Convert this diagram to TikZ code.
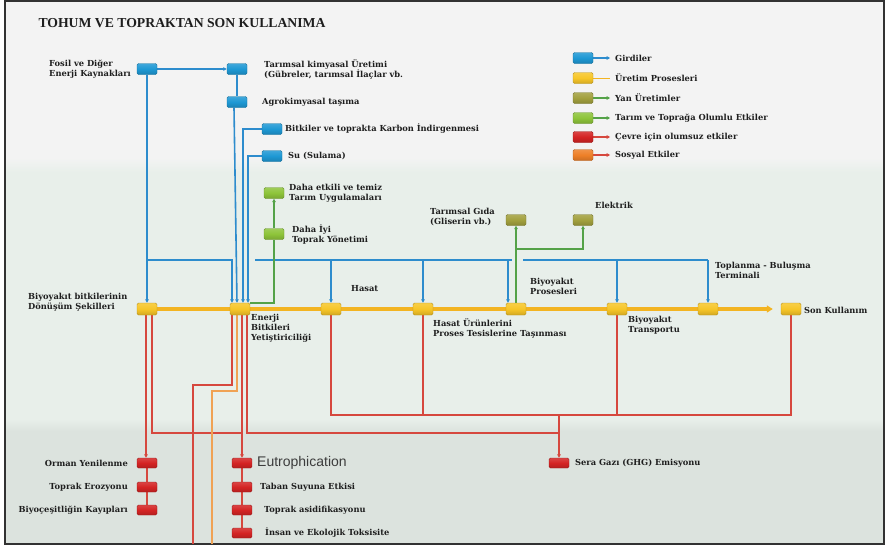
\documentclass[tikz,border=0pt]{standalone}
\usepackage{fontspec}
\setmainfont{Liberation Serif}
\newfontfamily\lblfont{DejaVu Serif}
\newfontfamily\eutrofont{Liberation Sans}
\usetikzlibrary{arrows.meta}

\definecolor{cBlue}{RGB}{30,152,212}
\definecolor{cBlueLine}{RGB}{45,140,205}
\definecolor{cYellow}{RGB}{247,198,40}
\definecolor{cYellowLine}{RGB}{243,180,34}
\definecolor{cOlive}{RGB}{162,160,62}
\definecolor{cLime}{RGB}{142,196,58}
\definecolor{cGreenLine}{RGB}{84,162,72}
\definecolor{cRed}{RGB}{212,36,36}
\definecolor{cRedLine}{RGB}{214,72,62}
\definecolor{cOrange}{RGB}{238,128,40}
\definecolor{cOrangeLine}{RGB}{240,162,84}
\definecolor{cText}{RGB}{30,30,30}
\definecolor{cEutro}{RGB}{60,60,60}
\definecolor{bgTop}{RGB}{243,243,243}
\definecolor{bgMid}{RGB}{232,239,234}
\definecolor{bgBot}{RGB}{220,227,222}
\definecolor{cFrame}{RGB}{50,50,50}

\pgfdeclarelayer{bg}
\pgfdeclarelayer{lines}
\pgfsetlayers{bg,lines,main}

\newcommand\lblsize{\fontsize{8.3}{10}\selectfont}

\tikzset{
  box/.style={rounded corners=1.5pt, minimum width=20pt, minimum height=11pt,
    inner sep=0pt, draw=#1!75!black, line width=0.4pt,
    top color=#1!85!white, bottom color=#1!85!black, middle color=#1},
  smallbox/.style={box=#1, minimum height=10pt},
  lab/.style={font=\lblfont\bfseries\lblsize, text=cText, align=left, inner sep=0pt},
  arr/.style={-{Triangle[length=3.5pt,width=3.5pt]}},
  lineBlue/.style={draw=cBlueLine, line width=1.6pt},
  lineYellow/.style={draw=cYellowLine, line width=3.6pt},
  lineGreen/.style={draw=cGreenLine, line width=1.6pt},
  lineRed/.style={draw=cRedLine, line width=1.8pt},
  lineOrange/.style={draw=cOrangeLine, line width=1.8pt},
}

\begin{document}
\begin{tikzpicture}[x=1pt,y=-1pt]
\useasboundingbox (0,0) rectangle (886,547);

% background bands and frame
\begin{pgfonlayer}{bg}
  \fill[white] (0,0) rectangle (886,547);
  \fill[bgTop] (5,1) rectangle (884,158);
  \shade[top color=bgTop, bottom color=bgMid] (5,158) rectangle (884,172);
  \fill[bgMid] (5,172) rectangle (884,419);
  \shade[top color=bgMid, bottom color=bgBot] (5,419) rectangle (884,431);
  \fill[bgBot] (5,431) rectangle (884,544);
  \draw[cFrame, line width=1.2pt] (5,1) rectangle (884,544);
\end{pgfonlayer}

% title
\node[anchor=west, font=\bfseries\fontsize{13.7}{16}\selectfont, text=cText] (title) at (35,23) {TOHUM VE TOPRAKTAN SON KULLANIMA};

% inputs
\node[box=cBlue] (fosil)  at (147,69)  {};
\node[box=cBlue] (kimya)  at (237,69)  {};
\node[box=cBlue] (tasima) at (237,102) {};
\node[box=cBlue] (karbon) at (272,129) {};
\node[box=cBlue] (su)     at (272,156) {};
\node[lab, anchor=west] (tfosil)  at (49,69)   {Fosil ve Diğer\\Enerji Kaynakları};
\node[lab, anchor=west] (tkimya)  at (264,69)  {Tarımsal kimyasal Üretimi\\(Gübreler, tarımsal İlaçlar vb.};
\node[lab, anchor=west] (ttasima) at (262,102) {Agrokimyasal taşıma};
\node[lab, anchor=west] (tkarbon) at (285,129) {Bitkiler ve toprakta Karbon İndirgenmesi};
\node[lab, anchor=west] (tsu)     at (288,156) {Su (Sulama)};

% production chain
\node[box=cYellow, minimum height=12pt] (y1) at (147,309) {};
\node[box=cYellow, minimum height=12pt] (y2) at (240,309) {};
\node[box=cYellow, minimum height=12pt] (y3) at (331,309) {};
\node[box=cYellow, minimum height=12pt] (y4) at (423,309) {};
\node[box=cYellow, minimum height=12pt] (y5) at (516,309) {};
\node[box=cYellow, minimum height=12pt] (y6) at (617,309) {};
\node[box=cYellow, minimum height=12pt] (y7) at (708,309) {};
\node[box=cYellow, minimum height=12pt] (y8) at (791,309) {};
\node[lab, anchor=west] (ty1) at (28,302)  {Biyoyakıt bitkilerinin\\Dönüşüm Şekilleri};
\node[lab, anchor=west] (ty2) at (251,328) {Enerji\\Bitkileri\\Yetiştiriciliği};
\node[lab, anchor=west] (ty3) at (351,289) {Hasat};
\node[lab, anchor=west] (ty4) at (433,328) {Hasat Ürünlerini\\Proses Tesislerine Taşınması};
\node[lab, anchor=west] (ty5) at (530,286) {Biyoyakıt\\Prosesleri};
\node[lab, anchor=west] (ty6) at (628,325) {Biyoyakıt\\Transportu};
\node[lab, anchor=west] (ty7) at (715,270) {Toplanma - Buluşma\\Terminali};
\node[lab, anchor=west] (ty8) at (804,310) {Son Kullanım};

% positive effects
\node[box=cLime] (g1) at (274,193) {};
\node[box=cLime] (g2) at (274,234) {};
\node[lab, anchor=west] (tg1) at (289,193) {Daha etkili ve temiz\\Tarım Uygulamaları};
\node[lab, anchor=west] (tg2) at (292,234) {Daha İyi\\Toprak Yönetimi};

% by-products
\node[box=cOlive] (o1) at (516,220) {};
\node[box=cOlive] (o2) at (583,220) {};
\node[lab, anchor=west] (to1) at (430,217) {Tarımsal Gıda\\(Gliserin vb.)};
\node[lab, anchor=west] (to2) at (595,205) {Elektrik};

% negative effects
\node[smallbox=cRed] (r1) at (147,463) {};
\node[smallbox=cRed] (r2) at (147,487) {};
\node[smallbox=cRed] (r3) at (147,510) {};
\node[lab, anchor=east] (tr1) at (128,463) {Orman Yenilenme};
\node[lab, anchor=east] (tr2) at (128,487) {Toprak Erozyonu};
\node[lab, anchor=east] (tr3) at (128,510) {Biyoçeşitliğin Kayıpları};
\node[smallbox=cRed] (e1) at (242,463) {};
\node[smallbox=cRed] (e2) at (242,487) {};
\node[smallbox=cRed] (e3) at (242,510) {};
\node[smallbox=cRed] (e4) at (242,533) {};
\node[anchor=west, inner sep=0pt, font=\eutrofont\fontsize{14}{16}\selectfont, text=cEutro] (te1) at (257,463) {Eutrophication};
\node[lab, anchor=west] (te2) at (260,487) {Taban Suyuna Etkisi};
\node[lab, anchor=west] (te3) at (264,510) {Toprak asidifikasyonu};
\node[lab, anchor=west] (te4) at (265,533) {İnsan ve Ekolojik Toksisite};
\node[smallbox=cRed] (ghg) at (559,463) {};
\node[lab, anchor=west] (tghg) at (575,463) {Sera Gazı (GHG) Emisyonu};

% legend
\node[box=cBlue]   (lg1) at (583,58)  {};
\node[box=cYellow] (lg2) at (583,78)  {};
\node[box=cOlive]  (lg3) at (583,98)  {};
\node[box=cLime]   (lg4) at (583,118) {};
\node[box=cRed]    (lg5) at (583,137) {};
\node[box=cOrange] (lg6) at (583,155) {};
\node[lab, anchor=west] (tlg1) at (615,58)  {Girdiler};
\node[lab, anchor=west] (tlg2) at (615,78)  {Üretim Prosesleri};
\node[lab, anchor=west] (tlg3) at (615,98)  {Yan Üretimler};
\node[lab, anchor=west] (tlg4) at (615,118) {Tarım ve Toprağa Olumlu Etkiler};
\node[lab, anchor=west] (tlg5) at (615,137) {Çevre için olumsuz etkiler};
\node[lab, anchor=west] (tlg6) at (615,155) {Sosyal Etkiler};

% junction points and loose ends
\coordinate (jFosil) at (147,260);
\coordinate (busA) at (255,260);
\coordinate (busB) at (512,260);
\coordinate (busC) at (523,260);
\coordinate (busD) at (708,260);
\coordinate (jOlive) at (516,249);
\coordinate (jEutro) at (242,433);
\coordinate (jGhg) at (559,433);
\coordinate (jBus) at (559,415);
\coordinate (endRed) at (193,544);
\coordinate (endOrange) at (212,544);

\begin{pgfonlayer}{lines}
  % inputs
  \draw[lineBlue, arr] (fosil.east) -- (kimya.west);
  \draw[lineBlue, arr] (fosil.south) -- (y1.north);
  \draw[lineBlue, arr] (jFosil) -| ([xshift=-8pt]y2.north);
  \draw[lineBlue] (kimya.south) -- (tasima.north);
  \draw[lineBlue, arr] ([xshift=-3pt]tasima.south) -- ([xshift=-3pt]y2.north);
  \draw[lineBlue, arr] (karbon.west) -| ([xshift=3pt]y2.north);
  \draw[lineBlue, arr] (su.west) -| ([xshift=8pt]y2.north);
  \draw[lineBlue] (busA) -- (busB);
  \draw[lineBlue] (busC) -- (busD);
  \draw[lineBlue, arr] (y3.north |- busA) -- (y3.north);
  \draw[lineBlue, arr] (y4.north |- busA) -- (y4.north);
  \draw[lineBlue, arr] ([xshift=-8pt]y5.north |- busA) -- ([xshift=-8pt]y5.north);
  \draw[lineBlue, arr] (y6.north |- busA) -- (y6.north);
  \draw[lineBlue, arr] (busD) -- (y7.north);

  % production line
  \draw[lineYellow] (y1.east) -- (y2.west);
  \draw[lineYellow] (y2.east) -- (y3.west);
  \draw[lineYellow] (y3.east) -- (y4.west);
  \draw[lineYellow] (y4.east) -- (y5.west);
  \draw[lineYellow] (y5.east) -- (y6.west);
  \draw[lineYellow] (y6.east) -- (y7.west);
  \draw[lineYellow, -{Triangle[length=6pt,width=7pt]}, shorten >=8pt] (y7.east) -- (y8.west);

  % positive effects and by-products
  \draw[lineGreen] (y2.north east) -| (g2.south);
  \draw[lineGreen, arr] (g2.north) -- (g1.south);
  \draw[lineGreen, arr] (y5.north) -- (o1.south);
  \draw[lineGreen, arr] (jOlive) -| (o2.south);

  % negative effects
  \draw[lineRed, arr] ([xshift=-1pt]y1.south) -- ([xshift=-1pt]r1.north);
  \draw[lineRed] ([xshift=5pt]y1.south) |- (jEutro);
  \draw[lineRed] (r1.south) -- (r2.north);
  \draw[lineRed] (r2.south) -- (r3.north);
  \draw[lineRed, arr] ([xshift=2pt]y2.south) -- (e1.north);
  \draw[lineRed] (e1.south) -- (e2.north);
  \draw[lineRed] (e2.south) -- (e3.north);
  \draw[lineRed] (e3.south) -- (e4.north);
  \draw[lineRed] ([xshift=-8pt]y2.south) -- (232,385) -- (193,385) -- (endRed);
  \draw[lineOrange] ([xshift=-3pt]y2.south) -- (237,391) -- (212,391) -- (endOrange);
  \draw[lineRed] ([xshift=7pt]y2.south) |- (jGhg);
  \draw[lineRed] (y3.south) -- (331,415) -- (791,415) -- (y8.south);
  \draw[lineRed] (y4.south) -- (423,415);
  \draw[lineRed] (y6.south) -- (617,415);
  \draw[lineRed, arr] (jBus) -- (ghg.north);

  % legend arrows
  \draw[lineBlue, line width=1.2pt, arr] (lg1.east) -- ++(17,0);
  \draw[cYellowLine, line width=0.8pt] (lg2.east) -- ++(17,0);
  \draw[lineGreen, line width=1.2pt, arr] (lg3.east) -- ++(17,0);
  \draw[lineGreen, line width=1.2pt, arr] (lg4.east) -- ++(17,0);
  \draw[lineRed, line width=1.2pt, arr] (lg5.east) -- ++(17,0);
  \draw[lineRed, line width=1.2pt, arr] (lg6.east) -- ++(17,0);
\end{pgfonlayer}
\end{tikzpicture}
\end{document}
